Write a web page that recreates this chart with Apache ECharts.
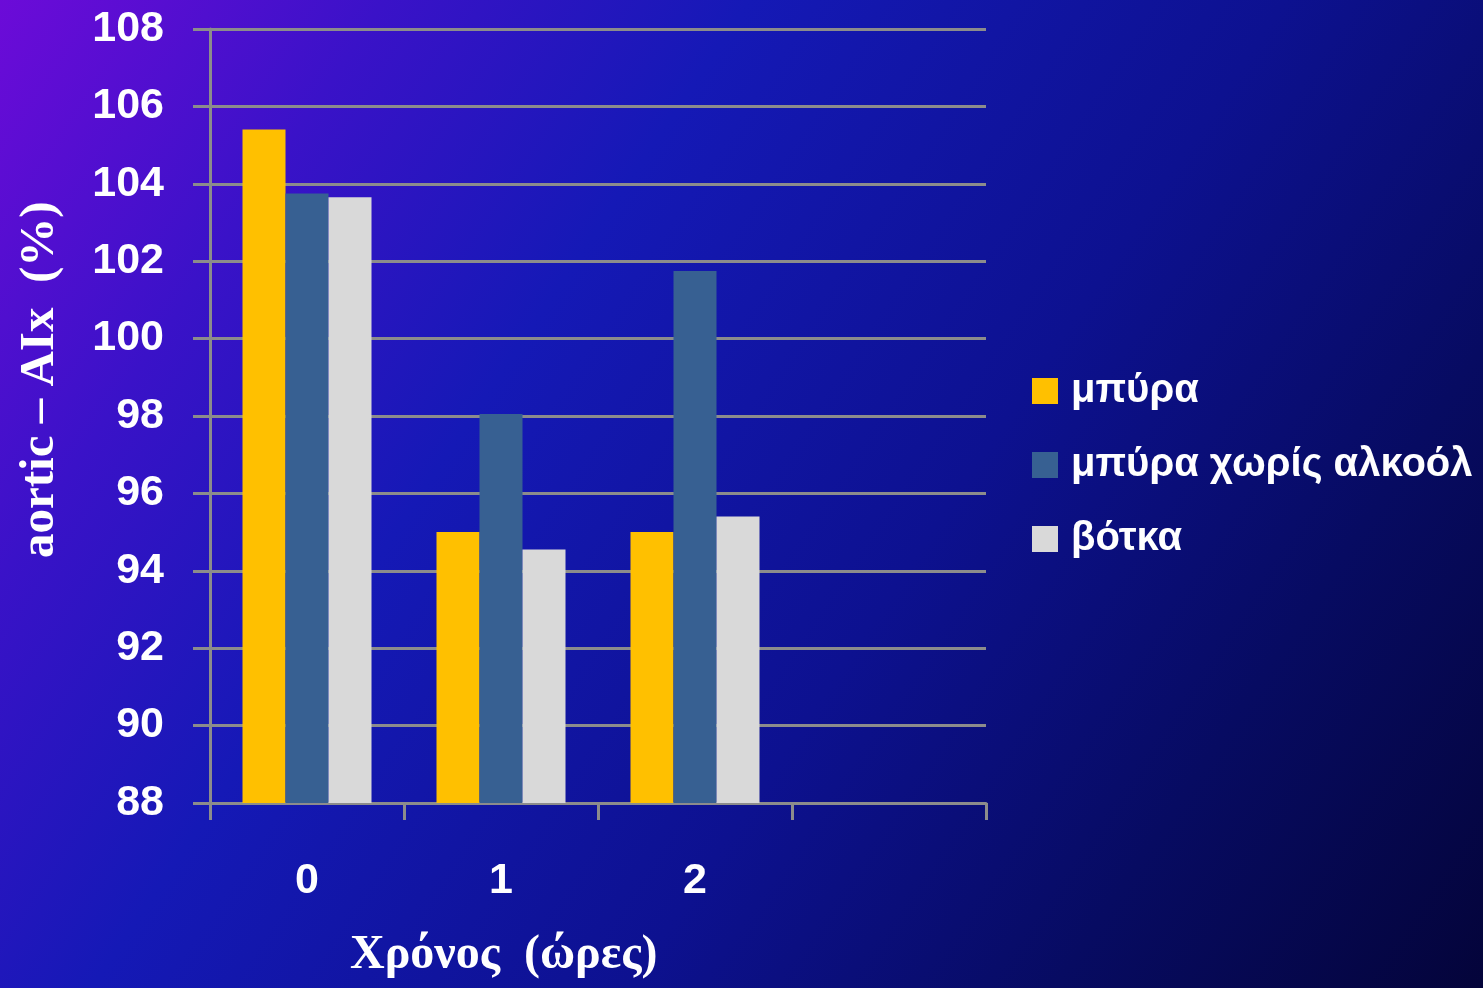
<!DOCTYPE html>
<html>
<head>
<meta charset="utf-8">
<script src="https://cdn.jsdelivr.net/npm/echarts@6/dist/echarts.min.js"></script>
<style>
html,body{margin:0;padding:0;width:100%;height:100%;overflow:hidden;}
#chart{width:1483px;height:988px;}
</style>
</head>
<body>
<div id="chart"></div>
<script>
const categories = ['0', '1', '2', ''];
const seriesNames = ['μπύρα', 'μπύρα χωρίς αλκοόλ', 'βότκα'];
const beer = [105.4, 95.0, 95.0];
const beerNoAlcohol = [103.75, 98.05, 101.75];
const vodka = [103.65, 94.55, 95.4];
const yMin = 88, yMax = 108, yInterval = 2;
const xName = 'Χρόνος  (ώρες)';
const yName = 'aortic – AIx  (%)';

const colors = ['#FFC000', '#376092', '#D9D9D9'];
const gridColor = '#8c8c8c';

const chart = echarts.init(document.getElementById('chart'));
const labelFont = { color: '#fff', fontFamily: 'Liberation Sans', fontWeight: 'bold', fontSize: 43 };

chart.setOption({
  backgroundColor: {
    type: 'linear', x: 0, y: 0, x2: 1, y2: 1,
    colorStops: [
      { offset: 0, color: '#6c0bd8' },
      { offset: 0.18, color: '#3a12c8' },
      { offset: 0.35, color: '#1519b6' },
      { offset: 0.6, color: '#0d1190' },
      { offset: 0.8, color: '#070b62' },
      { offset: 1, color: '#04043a' }
    ]
  },
  animation: false,
  grid: { left: 210, right: 497, top: 29, bottom: 185, containLabel: false },
  legend: {
    orient: 'vertical',
    left: 1027,
    top: 364,
    itemWidth: 26,
    itemHeight: 26,
    itemGap: 30,
    icon: 'rect',
    data: seriesNames,
    textStyle: { color: '#fff', fontFamily: 'Liberation Sans', fontWeight: 'bold', fontSize: 40, lineHeight: 44, padding: [0, 0, 0, 8] }
  },
  xAxis: {
    type: 'category',
    data: categories,
    boundaryGap: true,
    axisLine: { lineStyle: { color: gridColor, width: 3 } },
    axisTick: { show: true, length: 17, lineStyle: { color: gridColor, width: 3 } },
    axisLabel: Object.assign({ margin: 57 }, labelFont),
    splitLine: { show: false }
  },
  yAxis: {
    type: 'value',
    min: yMin, max: yMax, interval: yInterval,
    axisLine: { show: true, lineStyle: { color: gridColor, width: 3 } },
    axisTick: { show: true, length: 17, lineStyle: { color: gridColor, width: 3 } },
    axisLabel: Object.assign({ margin: 46 }, labelFont),
    splitLine: { show: true, lineStyle: { color: gridColor, width: 3 } }
  },
  graphic: [
    {
      type: 'text', left: 350, top: 932,
      style: { text: xName, fill: '#fff', font: 'bold 48px "Liberation Serif"' }
    },
    {
      type: 'text', x: 16, y: 558, rotation: Math.PI / 2,
      style: { text: yName, fill: '#fff', font: 'bold 49px "Liberation Serif"', textVerticalAlign: 'top' }
    }
  ],
  series: [
    { name: seriesNames[0], type: 'bar', data: beer, barWidth: 43, barGap: '0%', itemStyle: { color: colors[0] } },
    { name: seriesNames[1], type: 'bar', data: beerNoAlcohol, barWidth: 43, barGap: '0%', itemStyle: { color: colors[1] } },
    { name: seriesNames[2], type: 'bar', data: vodka, barWidth: 43, barGap: '0%', itemStyle: { color: colors[2] } }
  ]
});
</script>
</body>
</html>
